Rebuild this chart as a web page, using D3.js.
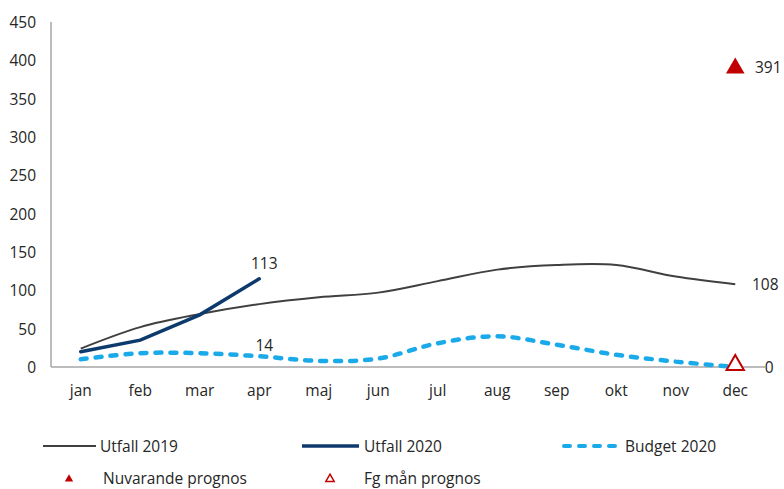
<!DOCTYPE html>
<html><head><meta charset="utf-8">
<script src="https://cdn.jsdelivr.net/npm/d3@7"></script>
<style>body{margin:0;background:#fff;} svg{display:block;} text{font-family:"Open Sans","Noto Sans",sans-serif;}</style>
</head><body><svg id="c" width="784" height="489"></svg>
<script>
const months = ["jan","feb","mar","apr","maj","jun","jul","aug","sep","okt","nov","dec"];
const utfall2019 = [24,52,69,82,91,97,112,127,133,133,118,108];
const utfall2020 = [20,35,68,115];
const budget2020 = [10,18,18,14,8,11,31,40,29,16,7,0];
const nuvarandePrognos = [{m:"dec", v:391}];
const fgManPrognos = [{m:"dec", v:0}];
const yTicks = [0,50,100,150,200,250,300,350,400,450];
const labels = [
  {m:"apr", v:113, text:"113", dx:5, dy:-17},
  {m:"apr", v:14, text:"14", dx:5, dy:-11},
  {m:"dec", v:108, text:"108", dx:30, dy:0},
  {m:"dec", v:391, text:"391", dx:33, dy:0},
  {m:"dec", v:0, text:"0", dx:34, dy:0}
];
const FS = 15.5;

const svg = d3.select("#c");
const x = d3.scaleBand().domain(months).range([51,765]);
const y = d3.scaleLinear().domain([0,450]).range([367,22]);
const cx = m => x(m) + x.bandwidth()/2;

// y axis
svg.append("line").attr("x1",51).attr("x2",51).attr("y1",22).attr("y2",367).attr("stroke","#a6a6a6").attr("stroke-width",1.5);
svg.append("g").selectAll("text").data(yTicks).join("text")
  .attr("x",36).attr("y",d=>y(d)).attr("text-anchor","end").attr("dominant-baseline","central")
  .attr("font-size",FS).attr("fill","#262626").text(d=>d);
// x axis
svg.append("line").attr("x1",51).attr("x2",765).attr("y1",367).attr("y2",367).attr("stroke","#a6a6a6").attr("stroke-width",1.5);
svg.append("g").selectAll("text").data(months).join("text")
  .attr("x",d=>cx(d)).attr("y",390).attr("text-anchor","middle").attr("dominant-baseline","central")
  .attr("font-size",FS).attr("fill","#262626").text(d=>d);

const line = d3.line().x((d,i)=>cx(months[i])).y(d=>y(d));
svg.append("path").datum(budget2020).attr("d",line.curve(d3.curveCatmullRom.alpha(0.5))).attr("fill","none")
  .attr("stroke","#1aaaea").attr("stroke-width",4.5).attr("stroke-dasharray","6,9").attr("stroke-linecap","round");
svg.append("path").datum(utfall2019).attr("d",line.curve(d3.curveCatmullRom.alpha(0.5))).attr("fill","none")
  .attr("stroke","#404040").attr("stroke-width",2);
svg.append("path").datum(utfall2020).attr("d",line.curve(d3.curveLinear)).attr("fill","none")
  .attr("stroke","#0d3a6c").attr("stroke-width",3.5).attr("stroke-linecap","round");

const tri = d3.symbol().type(d3.symbolTriangle);
svg.selectAll(".np").data(nuvarandePrognos).join("path").attr("class","np")
  .attr("transform",d=>`translate(${cx(d.m)},${y(d.v)+1})`).attr("d",tri.size(150)()).attr("fill","#c00000");
svg.selectAll(".fg").data(fgManPrognos).join("path").attr("class","fg")
  .attr("transform",d=>`translate(${cx(d.m)},${y(d.v)-2})`).attr("d",tri.size(130)()).attr("fill","#fff").attr("stroke","#c00000").attr("stroke-width",2);

svg.append("g").selectAll("text").data(labels).join("text")
  .attr("x",d=>cx(d.m)+d.dx).attr("y",d=>y(d.v)+d.dy).attr("text-anchor","middle").attr("dominant-baseline","central")
  .attr("font-size",FS).attr("fill","#262626").text(d=>d.text);

// legend
const lg = svg.append("g");
const ly1 = 446, ly2 = 478;
lg.append("line").attr("x1",43).attr("x2",96).attr("y1",ly1).attr("y2",ly1).attr("stroke","#404040").attr("stroke-width",2);
lg.append("text").attr("x",100).attr("y",ly1).attr("dominant-baseline","central").attr("font-size",FS).attr("fill","#262626").text("Utfall 2019");
lg.append("line").attr("x1",302).attr("x2",359).attr("y1",ly1).attr("y2",ly1).attr("stroke","#0d3a6c").attr("stroke-width",3.5);
lg.append("text").attr("x",364).attr("y",ly1).attr("dominant-baseline","central").attr("font-size",FS).attr("fill","#262626").text("Utfall 2020");
lg.append("line").attr("x1",564).attr("x2",620).attr("y1",ly1).attr("y2",ly1).attr("stroke","#1aaaea").attr("stroke-width",4).attr("stroke-dasharray","6,9").attr("stroke-linecap","round");
lg.append("text").attr("x",625).attr("y",ly1).attr("dominant-baseline","central").attr("font-size",FS).attr("fill","#262626").text("Budget 2020");
lg.append("path").attr("transform",`translate(69,${ly2+1})`).attr("d",d3.symbol().type(d3.symbolTriangle).size(30)()).attr("fill","#c00000");
lg.append("text").attr("x",103).attr("y",ly2).attr("dominant-baseline","central").attr("font-size",FS).attr("fill","#262626").text("Nuvarande prognos");
lg.append("path").attr("transform",`translate(330,${ly2+1})`).attr("d",d3.symbol().type(d3.symbolTriangle).size(30)()).attr("fill","#fff").attr("stroke","#c00000").attr("stroke-width",1.5);
lg.append("text").attr("x",364).attr("y",ly2).attr("dominant-baseline","central").attr("font-size",FS).attr("fill","#262626").text("Fg mån prognos");
</script></body></html>
